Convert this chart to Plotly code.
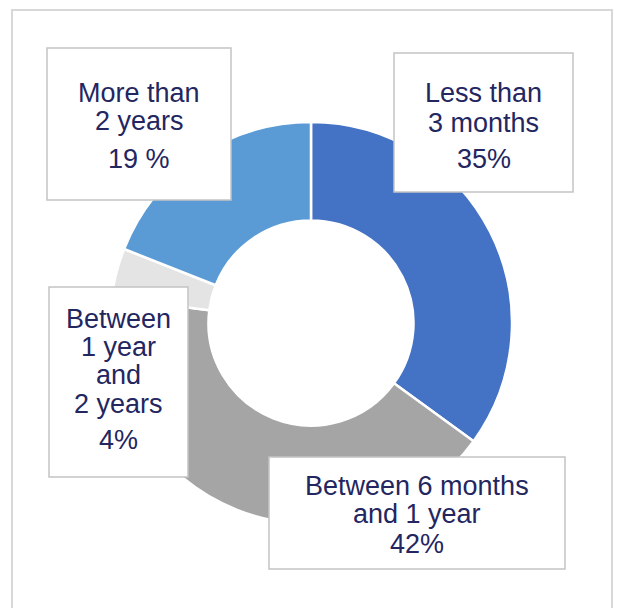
import plotly.graph_objects as go

# ---- data ----
categories = ["Less than 3 months", "Between 6 months and 1 year",
              "Between 1 year and 2 years", "More than 2 years"]
values = [35, 42, 4, 19]
value_labels = ["35%", "42%", "4%", "19 %"]
label_lines = [["Less than", "3 months"],
               ["Between 6 months", "and 1 year"],
               ["Between", "1 year", "and", "2 years"],
               ["More than", "2 years"]]
colors = ["#4472C4", "#A5A5A5", "#E4E4E4", "#5B9BD5"]

W, H = 619, 608


def px(x):
    return x / W


def py(y):
    return 1 - y / H


fig = go.Figure()
fig.add_trace(go.Pie(
    labels=categories, values=values, sort=False, direction="clockwise",
    rotation=0, hole=0.51, textinfo="none", hoverinfo="label+percent",
    marker=dict(colors=colors, line=dict(color="white", width=2.5)),
    domain=dict(x=[px(110), px(512)], y=[py(524), py(122)]),
))

shapes = [dict(type="rect", xref="paper", yref="paper",
               x0=px(12), x1=px(612), y0=py(10), y1=py(620),
               line=dict(color="#D8D8D8", width=2), fillcolor="rgba(0,0,0,0)",
               layer="below")]

# label boxes (pixel geometry) and text baselines per category
boxes = [(394, 53, 573, 192), (269, 457, 565, 569), (49, 287, 188, 477), (47, 48, 231, 200)]
baselines = [[102, 132, 168], [495, 523, 553], [328, 356, 384, 413, 449], [102, 130, 168]]

annotations = []
font = dict(family="Liberation Sans, Arial, sans-serif", size=27, color="#23265F")
for i, (x0, y0, x1, y1) in enumerate(boxes):
    shapes.append(dict(type="rect", xref="paper", yref="paper",
                       x0=px(x0), x1=px(x1), y0=py(y1), y1=py(y0),
                       line=dict(color="#C4C4C4", width=1.5), fillcolor="white",
                       layer="above"))
    lines = label_lines[i] + [value_labels[i]]
    cx = (x0 + x1) / 2
    for line, base in zip(lines, baselines[i]):
        annotations.append(dict(text=line, x=px(cx), y=py(base - 9),
                                xref="paper", yref="paper", xanchor="center",
                                yanchor="middle", showarrow=False, font=font,
                                borderpad=0))

fig.update_layout(width=W, height=H, margin=dict(l=0, r=0, t=0, b=0),
                  paper_bgcolor="white", plot_bgcolor="white",
                  showlegend=False, shapes=shapes, annotations=annotations)

fig.write_html("out.html", config={"displayModeBar": False},
               post_script="document.body.style.margin='0';document.body.style.overflow='hidden';")
